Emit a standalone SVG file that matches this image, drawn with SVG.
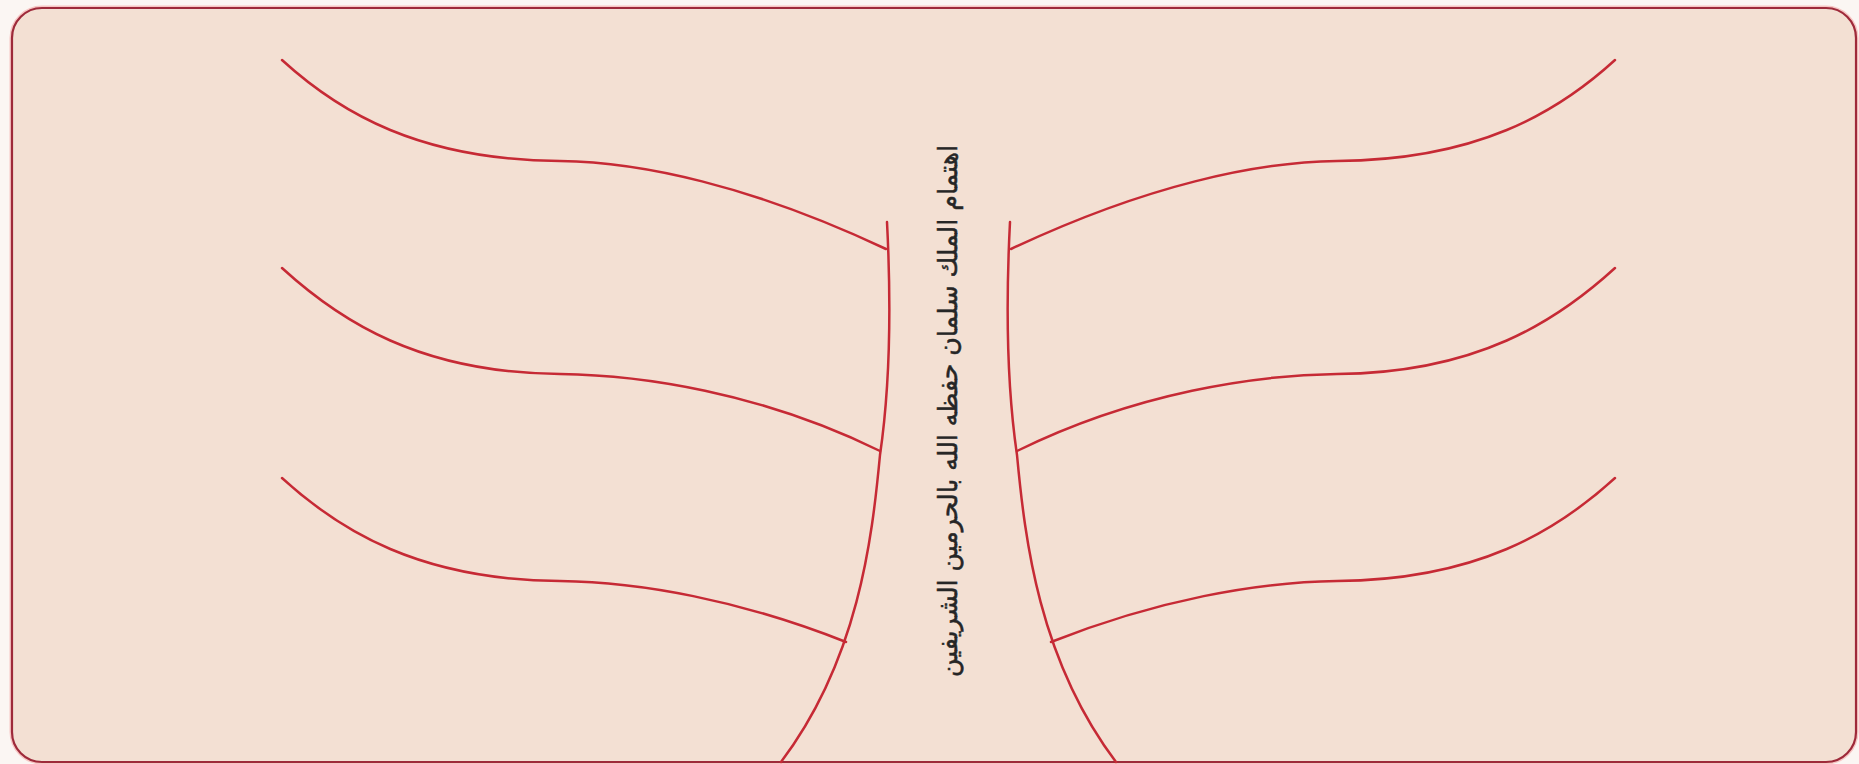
<svg xmlns="http://www.w3.org/2000/svg" width="1859" height="764" viewBox="0 0 1859 764">
  <style>
    .frame-glow { fill: none; stroke: #f7c6c4; stroke-width: 5; }
    .frame { fill: #f3e0d3; stroke: #9e2a3a; stroke-width: 2.2; }
    .line { fill: none; stroke: #c62a35; stroke-width: 2.5; stroke-linecap: round; }
    .title { font-family: "DejaVu Sans", sans-serif; font-weight: normal; font-size: 26px; fill: #262626; stroke: #262626; stroke-width: 0.5; }
  </style>
  <rect width="1859" height="764" fill="#fbf6f3"/>
  <g id="frame">
    <rect class="frame-glow" x="12" y="8" width="1844" height="754" rx="30" ry="30"/>
    <rect class="frame" x="12" y="8" width="1844" height="754" rx="30" ry="30"/>
  </g>
  <g id="connectors">
    <!-- trunks -->
    <path class="line" d="M887,222 C891,300 891,380 880,455 C872,540 858,660 781,762"/>
    <path class="line" d="M1010,222 C1006,300 1006,380 1017,455 C1025,540 1039,660 1116,762"/>
    <!-- left branches -->
    <path class="line" d="M282,60 C340,113 420,160 560,161 C640,162 750,185 886,249"/>
    <path class="line" d="M282,268 C340,321 420,373 560,374 C640,375 760,392 880,451"/>
    <path class="line" d="M282,478 C340,531 420,580 560,581 C640,582 740,600 846,642"/>
    <!-- right branches -->
    <path class="line" d="M1615,60 C1557,113 1477,160 1337,161 C1257,162 1147,185 1011,249"/>
    <path class="line" d="M1615,268 C1557,321 1477,373 1337,374 C1257,375 1137,392 1017,451"/>
    <path class="line" d="M1615,478 C1557,531 1477,580 1337,581 C1257,582 1157,600 1051,642"/>
  </g>
  <g id="title">
    <text class="title" transform="translate(948,411) rotate(-90)" text-anchor="middle" dominant-baseline="central" direction="rtl" textLength="532" lengthAdjust="spacingAndGlyphs">اهتمام الملك سلمان حفظه الله بالحرمين الشريفين</text>
  </g>
</svg>
